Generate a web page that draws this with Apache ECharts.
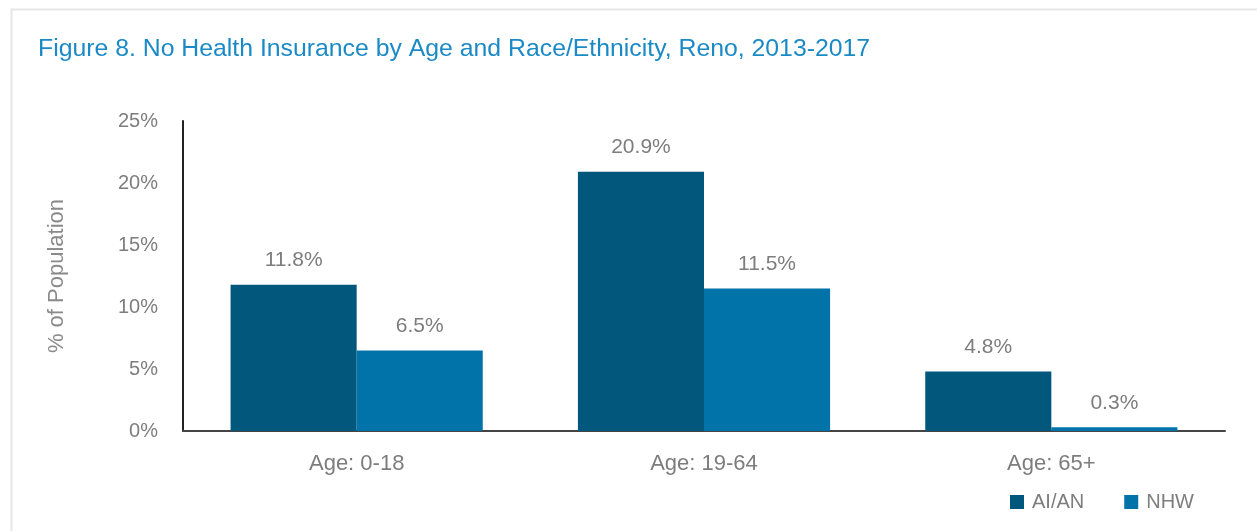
<!DOCTYPE html>
<html><head><meta charset="utf-8">
<script src="https://cdn.jsdelivr.net/npm/echarts@6/dist/echarts.min.js"></script>
<style>html,body{margin:0;padding:0;background:#fff}#c{width:1257px;height:531px}</style>
</head><body><div id="c"></div>
<script>
const categories = ['Age: 0-18', 'Age: 19-64', 'Age: 65+'];
const aian = [11.8, 20.9, 4.8];
const nhw = [6.5, 11.5, 0.3];
const seriesNames = ['AI/AN', 'NHW'];
const FONT = '"Liberation Sans Narrow", "Arial Narrow", "Liberation Sans", sans-serif';
const GRAY = '#7d7d7d';
const chart = echarts.init(document.getElementById('c'));
const lbl = {show: true, position: 'top', distance: 14, color: GRAY, fontSize: 21, fontFamily: FONT, formatter: p => p.value.toFixed(1) + '%'};
chart.setOption({
  animation: false,
  graphic: [{type: 'rect', shape: {x: 11.5, y: 9.5, width: 1260, height: 540}, style: {fill: 'none', stroke: '#e6e6e6', lineWidth: 2}}],
  title: {text: 'Figure 8. No Health Insurance by Age and Race/Ethnicity, Reno, 2013-2017', left: 33, top: 32,
    textStyle: {color: '#1a8ac6', fontSize: 24.8, fontWeight: 'normal', fontFamily: FONT}},
  legend: {data: seriesNames, right: 58, top: 487, itemWidth: 14, itemHeight: 14, itemGap: 40, icon: 'rect',
    textStyle: {color: GRAY, fontSize: 20, fontFamily: FONT, padding: [0, 0, 0, 3]}},
  grid: {left: 183, right: 32, top: 121, bottom: 100, containLabel: false},
  xAxis: {type: 'category', data: categories, axisTick: {show: false},
    axisLine: {lineStyle: {color: '#444', width: 2}},
    axisLabel: {color: GRAY, fontSize: 22, fontFamily: FONT, margin: 22}},
  yAxis: {type: 'value', min: 0, max: 25, interval: 5, name: '% of Population', nameLocation: 'middle', nameGap: 115, nameRotate: 90,
    nameTextStyle: {color: '#8a8a8a', fontSize: 22, fontFamily: FONT},
    axisLine: {show: true, lineStyle: {color: '#222', width: 2}}, axisTick: {show: false}, splitLine: {show: false},
    axisLabel: {color: GRAY, fontSize: 20, fontFamily: FONT, margin: 25, formatter: v => v + '%'}},
  series: [
    {name: seriesNames[0], type: 'bar', data: aian, barGap: '0%', barCategoryGap: '27.4%', itemStyle: {color: '#02577c'}, label: lbl},
    {name: seriesNames[1], type: 'bar', data: nhw, itemStyle: {color: '#0173a8'}, label: lbl}
  ]
});
</script></body></html>
